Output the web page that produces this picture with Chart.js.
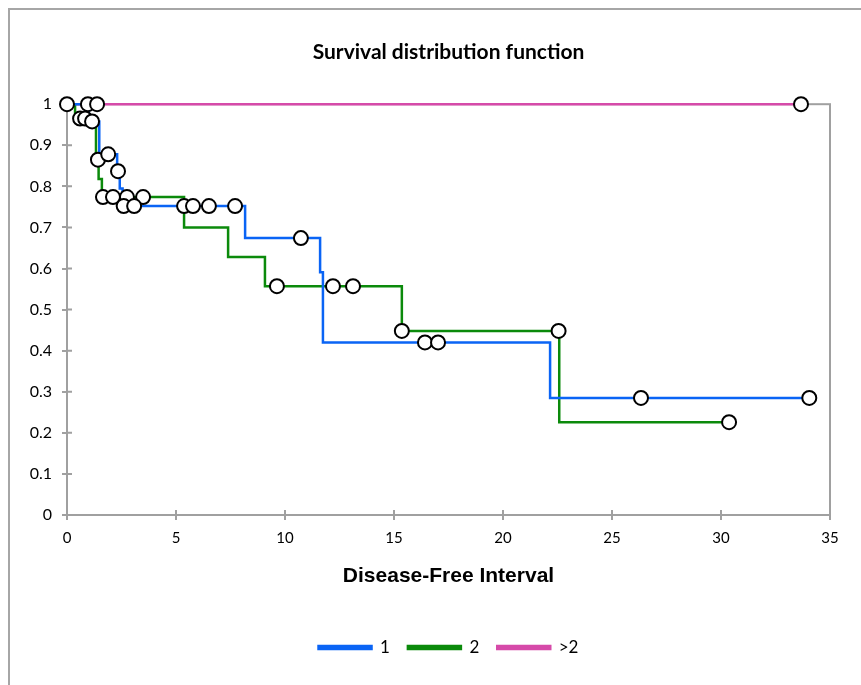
<!DOCTYPE html>
<html>
<head>
<meta charset="utf-8">
<script src="https://cdn.jsdelivr.net/npm/chart.js@4/dist/chart.umd.min.js"></script>
<style>
  body { margin: 0; background: #fff; }
  #wrap { position: relative; width: 861px; height: 685px; overflow: hidden; }
  #frame { position: absolute; left: 8px; top: 8px; width: 900px; height: 720px; border-left: 2px solid #a6a6a6; border-top: 2px solid #a6a6a6; }
  canvas { position: absolute; left: 0; top: 0; }
</style>
</head>
<body>
<div id="wrap">
  <div id="frame"></div>
  <canvas id="chart" width="861" height="685"></canvas>
</div>
<script>
'use strict'

const seriesNames = ['1', '2', '>2']

// step curves: time where the step ends and survival after it
const blueTime = [0, 1.0, 1.48, 2.3, 2.42, 2.55, 8.17, 11.61, 11.74, 22.16, 34.05]
const blueSurv = [1, 0.958, 0.878, 0.837, 0.795, 0.752, 0.674, 0.591, 0.42, 0.285, 0.285]
const greenTime = [0, 0.37, 1.33, 1.45, 1.6, 5.37, 7.39, 9.08, 15.36, 22.58, 30.37]
const greenSurv = [1, 0.965, 0.865, 0.818, 0.774, 0.70, 0.628, 0.557, 0.448, 0.226, 0.226]
const pinkTime = [0, 33.67]
const pinkSurv = [1, 1]

// censored observations
const blueCensTime = [1.15, 1.89, 2.34, 2.6, 3.08, 5.37, 5.78, 6.51, 7.71, 10.73, 16.42, 17.02, 26.33, 34.05]
const blueCensSurv = [0.958, 0.878, 0.837, 0.752, 0.752, 0.752, 0.752, 0.752, 0.752, 0.674, 0.42, 0.42, 0.285, 0.285]
const greenCensTime = [0.6, 0.83, 1.42, 1.65, 2.11, 2.75, 3.49, 9.63, 12.2, 13.12, 15.36, 22.55, 30.37]
const greenCensSurv = [0.965, 0.965, 0.865, 0.774, 0.774, 0.774, 0.774, 0.557, 0.557, 0.557, 0.448, 0.448, 0.226]
const pinkCensTime = [0, 0.96, 1.38, 33.67]
const pinkCensSurv = [1, 1, 1, 1]

const colors = ['#0a64f5', '#0b8a0b', '#d64aa9']

const toPoints = (xs, ys) => xs.map((x, i) => ({ x: x, y: ys[i] }))

const stepSet = (label, xs, ys, color) => ({
  type: 'line',
  label: label,
  data: toPoints(xs, ys),
  stepped: true,
  borderColor: color,
  backgroundColor: color,
  borderWidth: 2.5,
  pointRadius: 0,
  fill: false,
  clip: false,
  order: 1
})

const censSet = (xs, ys) => ({
  type: 'scatter',
  label: 'censored',
  data: toPoints(xs, ys),
  pointRadius: 7,
  pointBorderWidth: 2,
  pointBorderColor: '#000',
  pointBackgroundColor: '#fff',
  showLine: false,
  clip: false,
  order: 0
})

// plot box and inner halves of the tick marks
const plotFrame = {
  id: 'plotFrame',
  beforeDatasetsDraw (chart) {
    const { ctx, chartArea: a, scales } = chart
    ctx.save()
    ctx.strokeStyle = '#a0a0a0'
    ctx.lineWidth = 2
    ctx.strokeRect(a.left, a.top, a.right - a.left, a.bottom - a.top)
    ctx.beginPath()
    scales.y.ticks.forEach((t) => {
      const py = scales.y.getPixelForValue(t.value)
      ctx.moveTo(a.left, py)
      ctx.lineTo(a.left + 5, py)
    })
    scales.x.ticks.forEach((t) => {
      const px = scales.x.getPixelForValue(t.value)
      ctx.moveTo(px, a.bottom)
      ctx.lineTo(px, a.bottom - 5)
    })
    ctx.stroke()
    ctx.restore()
  }
}

new Chart(document.getElementById('chart'), {
  data: {
    datasets: [
      stepSet(seriesNames[0], blueTime, blueSurv, colors[0]),
      stepSet(seriesNames[1], greenTime, greenSurv, colors[1]),
      stepSet(seriesNames[2], pinkTime, pinkSurv, colors[2]),
      censSet(blueCensTime, blueCensSurv),
      censSet(greenCensTime, greenCensSurv),
      censSet(pinkCensTime, pinkCensSurv)
    ]
  },
  options: {
    responsive: false,
    animation: false,
    layout: { padding: { left: 0, right: 31, top: 0, bottom: 19 } },
    plugins: {
      title: {
        display: true,
        fullSize: false,
        text: 'Survival distribution function',
        color: '#000',
        font: { family: 'Lato', size: 21, weight: 'bold' },
        padding: { top: 40, bottom: 39 }
      },
      legend: {
        position: 'bottom',
        fullSize: false,
        labels: {
          filter: (item) => item.datasetIndex < 3,
          boxWidth: 53,
          boxHeight: 3,
          padding: 18,
          color: '#000',
          font: { family: 'Lato', size: 17 }
        }
      },
      tooltip: { enabled: false }
    },
    scales: {
      x: {
        type: 'linear',
        min: 0,
        max: 35,
        afterFit: (s) => { s.height = 106 },
        ticks: { stepSize: 5, color: '#000', padding: 9, font: { family: 'Lato', size: 15 } },
        grid: { drawOnChartArea: false, drawTicks: true, tickLength: 5, color: '#a0a0a0', lineWidth: 2 },
        border: { display: false },
        title: {
          display: true,
          text: 'Disease-Free Interval',
          color: '#000',
          font: { family: 'Liberation Sans', size: 21, weight: 'bold' },
          padding: { top: 0, bottom: 32 }
        }
      },
      y: {
        type: 'linear',
        min: 0,
        max: 1,
        afterFit: (s) => { s.width = 67 },
        ticks: {
          stepSize: 0.1,
          color: '#000',
          padding: 10,
          font: { family: 'Lato', size: 16 },
          callback: (v) => String(Number(v.toFixed(1)))
        },
        grid: { drawOnChartArea: false, drawTicks: true, tickLength: 5, color: '#a0a0a0', lineWidth: 2 },
        border: { display: false }
      }
    }
  },
  plugins: [plotFrame]
})
</script>
</body>
</html>
